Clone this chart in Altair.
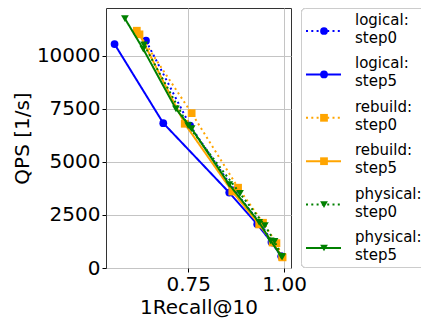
import altair as alt
import pandas as pd

# ---- data ----
series_names = ["logical: step0", "logical: step5", "rebuild: step0",
                "rebuild: step5", "physical: step0", "physical: step5"]
series_method = ["logical", "logical", "rebuild", "rebuild", "physical", "physical"]
series_step = ["step0", "step5", "step0", "step5", "step0", "step5"]

logical_step0_recall = [0.640, 0.755, 0.870, 0.940, 0.970, 0.993]
logical_step0_qps = [10700, 6700, 3650, 2050, 1200, 550]
logical_step5_recall = [0.558, 0.685, 0.857, 0.930, 0.967, 0.993]
logical_step5_qps = [10540, 6820, 3550, 2060, 1220, 550]
rebuild_step0_recall = [0.616, 0.759, 0.880, 0.945, 0.980, 0.996]
rebuild_step0_qps = [11170, 7290, 3780, 2130, 1170, 500]
rebuild_step5_recall = [0.623, 0.741, 0.865, 0.935, 0.970, 0.995]
rebuild_step5_qps = [11000, 6790, 3600, 2050, 1200, 520]
physical_step0_recall = [0.635, 0.750, 0.885, 0.950, 0.975, 0.995]
physical_step0_qps = [10500, 6700, 3510, 2000, 1250, 520]
physical_step5_recall = [0.585, 0.633, 0.718, 0.759, 0.857, 0.935, 0.965, 0.993]
physical_step5_qps = [11740, 10300, 7490, 6560, 3930, 2150, 1280, 550]

recalls = [logical_step0_recall, logical_step5_recall, rebuild_step0_recall,
           rebuild_step5_recall, physical_step0_recall, physical_step5_recall]
qpss = [logical_step0_qps, logical_step5_qps, rebuild_step0_qps,
        rebuild_step5_qps, physical_step0_qps, physical_step5_qps]

methods = ["logical", "rebuild", "physical"]
method_colors = ["#0000ff", "#ffa500", "#008000"]
method_shapes = ["circle", "square", "triangle-down"]

x_ticks = [0.75, 1.00]
y_ticks = [0, 2500, 5000, 7500, 10000]

FONT = "DejaVu Sans"
DOT = [2, 3.3]

rows = []
for name, m, s, xs, ys in zip(series_names, series_method, series_step, recalls, qpss):
    for xv, yv in zip(xs, ys):
        rows.append({"series": name, "method": m, "step": s, "recall": xv, "qps": yv})
df = pd.DataFrame(rows)

color_scale = alt.Scale(domain=methods, range=method_colors)
shape_scale = alt.Scale(domain=methods, range=method_shapes)

x_enc = alt.X("recall:Q",
              scale=alt.Scale(domain=[0.5357, 1.018], nice=False, zero=False),
              axis=alt.Axis(values=x_ticks, format=".2f", title="1Recall@10",
                            labelFontSize=20, titleFontSize=20, labelFont=FONT,
                            titleFont=FONT, titleFontWeight="normal",
                            labelColor="black", titleColor="black",
                            tickColor="black", tickSize=4, labelPadding=2,
                            titlePadding=3, domain=False, grid=True,
                            gridColor="#c4c4c4", gridWidth=1))
y_enc = alt.Y("qps:Q",
              scale=alt.Scale(domain=[0, 12240], nice=False, zero=True),
              axis=alt.Axis(values=y_ticks, format="d", title="QPS [1/s]",
                            labelFontSize=20, titleFontSize=20, labelFont=FONT,
                            titleFont=FONT, titleFontWeight="normal",
                            labelColor="black", titleColor="black",
                            tickColor="black", tickSize=4, labelPadding=2,
                            titlePadding=4, domain=False, grid=True,
                            gridColor="#c4c4c4", gridWidth=1))

layers = []
for name, s in zip(series_names, series_step):
    base = alt.Chart(df).transform_filter(alt.datum.series == name)
    dash = DOT if s == "step0" else [1, 0]
    line = base.mark_line(strokeWidth=2, strokeDash=dash).encode(
        x=x_enc, y=y_enc,
        color=alt.Color("method:N", scale=color_scale, legend=None),
        order="recall:Q")
    pts = base.mark_point(filled=True, size=60, opacity=1).encode(
        x=x_enc, y=y_enc,
        color=alt.Color("method:N", scale=color_scale, legend=None),
        shape=alt.Shape("method:N", scale=shape_scale, legend=None))
    layers += [line, pts]

main = alt.layer(*layers).properties(
    width=185, height=260,
    view=alt.ViewBackground(stroke="#333333", strokeWidth=1))

# ---- legend panel ----
leg_df = pd.DataFrame({
    "series": series_names,
    "method": series_method,
    "step": series_step,
    "text": [n.replace(": ", ":\n") for n in series_names],
})
leg_y = alt.Y("series:N", scale=alt.Scale(type="point", domain=series_names,
                                          range=[23, 240], padding=0), axis=None)

box = alt.Chart(leg_df).mark_rect(
    fill="white", stroke="#cccccc", strokeWidth=1, cornerRadius=4
).encode(x=alt.value(0.5), x2=alt.value(160), y=alt.value(0.5), y2=alt.value(259.5))

leg_layers = [box]
for s in ["step0", "step5"]:
    dash = DOT if s == "step0" else [1, 0]
    leg_layers.append(
        alt.Chart(leg_df).transform_filter(alt.datum.step == s).mark_rule(
            strokeWidth=2, strokeDash=dash).encode(
            x=alt.value(5), x2=alt.value(40), y=leg_y,
            color=alt.Color("method:N", scale=color_scale, legend=None)))
leg_layers.append(
    alt.Chart(leg_df).mark_point(filled=True, size=60, opacity=1).encode(
        x=alt.value(23), y=leg_y,
        color=alt.Color("method:N", scale=color_scale, legend=None),
        shape=alt.Shape("method:N", scale=shape_scale, legend=None)))
leg_layers.append(
    alt.Chart(leg_df).mark_text(align="left", baseline="middle", fontSize=15,
                                font=FONT, lineBreak="\n", lineHeight=18,
                                color="black", dy=-11).encode(
        x=alt.value(54), y=leg_y, text="text:N"))

legend = alt.layer(*leg_layers).properties(width=120, height=260)

chart = alt.hconcat(main, legend, spacing=10, bounds="flush").properties(
    autosize=alt.AutoSizeParams(type="none"),
    padding={"left": 98, "top": 0, "right": 315, "bottom": 306},
).configure_view(strokeWidth=0)

chart.save("out.html", embed_options={"renderer": "svg", "actions": False})
